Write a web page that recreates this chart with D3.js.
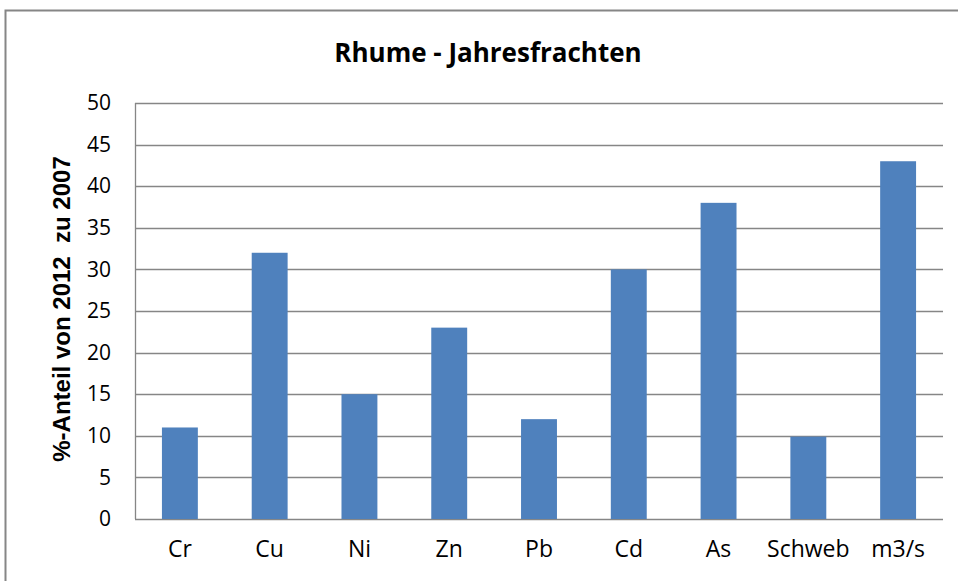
<!DOCTYPE html>
<html>
<head>
<meta charset="utf-8">
<script src="https://cdn.jsdelivr.net/npm/d3@7"></script>
<style>
  body { margin: 0; background: #fff; }
</style>
</head>
<body>
<div id="chart"></div>
<script>
// data
const categories = ["Cr", "Cu", "Ni", "Zn", "Pb", "Cd", "As", "Schweb", "m3/s"];
const values = [11, 32, 15, 23, 12, 30, 38, 9.9, 43];
const yTicks = [0, 5, 10, 15, 20, 25, 30, 35, 40, 45, 50];

const W = 958, H = 581;
const margin = {top: 103, right: 15, bottom: 62, left: 135};
const width = W - margin.left - margin.right,
  height = H - margin.top - margin.bottom;

const svg = d3.select("#chart")
  .append("svg")
    .attr("width", W)
    .attr("height", H);

// chart frame
svg.append("rect")
  .attr("x", 5.5)
  .attr("y", 10.5)
  .attr("width", W)
  .attr("height", H)
  .attr("fill", "none")
  .attr("stroke", "#868686")
  .attr("stroke-width", 2);

const g = svg.append("g")
  .attr("transform", "translate(" + margin.left + "," + margin.top + ")");

const x = d3.scaleBand()
  .domain(categories)
  .range([0, width])
  .paddingInner(0.6)
  .paddingOuter(0.3);

const y = d3.scaleLinear()
  .domain([0, 50])
  .range([height, 0]);

// gridlines
g.append("g")
  .selectAll("line")
  .data(yTicks)
  .enter()
  .append("line")
    .attr("x1", 0)
    .attr("x2", width)
    .attr("y1", function(d) { return Math.round(y(d)) + 0.5; })
    .attr("y2", function(d) { return Math.round(y(d)) + 0.5; })
    .attr("stroke", "#868686")
    .attr("stroke-width", 1.3);

// y axis line
g.append("line")
  .attr("x1", 0.5).attr("x2", 0.5)
  .attr("y1", 0).attr("y2", height)
  .attr("stroke", "#868686")
  .attr("stroke-width", 1.3);

// bars
g.selectAll("mybar")
  .data(values)
  .enter()
  .append("rect")
    .attr("x", function(d, i) { return x(categories[i]); })
    .attr("y", function(d) { return y(d); })
    .attr("width", x.bandwidth())
    .attr("height", function(d) { return height - y(d); })
    .attr("fill", "#4f81bd");

// y tick labels
const yAxis = g.append("g")
  .call(d3.axisLeft(y).tickValues(yTicks).tickSize(0).tickPadding(24));
yAxis.select(".domain").remove();
yAxis.selectAll("text")
  .style("font-family", "'Open Sans', 'Liberation Sans', sans-serif")
  .style("font-size", "21px")
  .attr("fill", "#000");

// x tick labels
const xAxis = g.append("g")
  .attr("transform", "translate(0," + height + ")")
  .call(d3.axisBottom(x).tickSize(0).tickPadding(22));
xAxis.select(".domain").remove();
xAxis.selectAll("text")
  .style("font-family", "'Open Sans', 'Liberation Sans', sans-serif")
  .style("font-size", "23px")
  .attr("fill", "#000");

// title
svg.append("text")
  .attr("x", 488)
  .attr("y", 62)
  .attr("text-anchor", "middle")
  .style("font-family", "'Open Sans', 'Liberation Sans', sans-serif")
  .style("font-weight", "bold")
  .style("font-size", "26px")
  .text("Rhume - Jahresfrachten");

// y axis title
svg.append("text")
  .attr("transform", "translate(70," + 309 + ")rotate(-90)")
  .attr("text-anchor", "middle")
  .style("font-family", "'Liberation Sans', Arial, sans-serif")
  .style("font-weight", "bold")
  .style("font-size", "24px")
  .style("white-space", "pre")
  .text("%-Anteil von 2012  zu 2007");
</script>
</body>
</html>
